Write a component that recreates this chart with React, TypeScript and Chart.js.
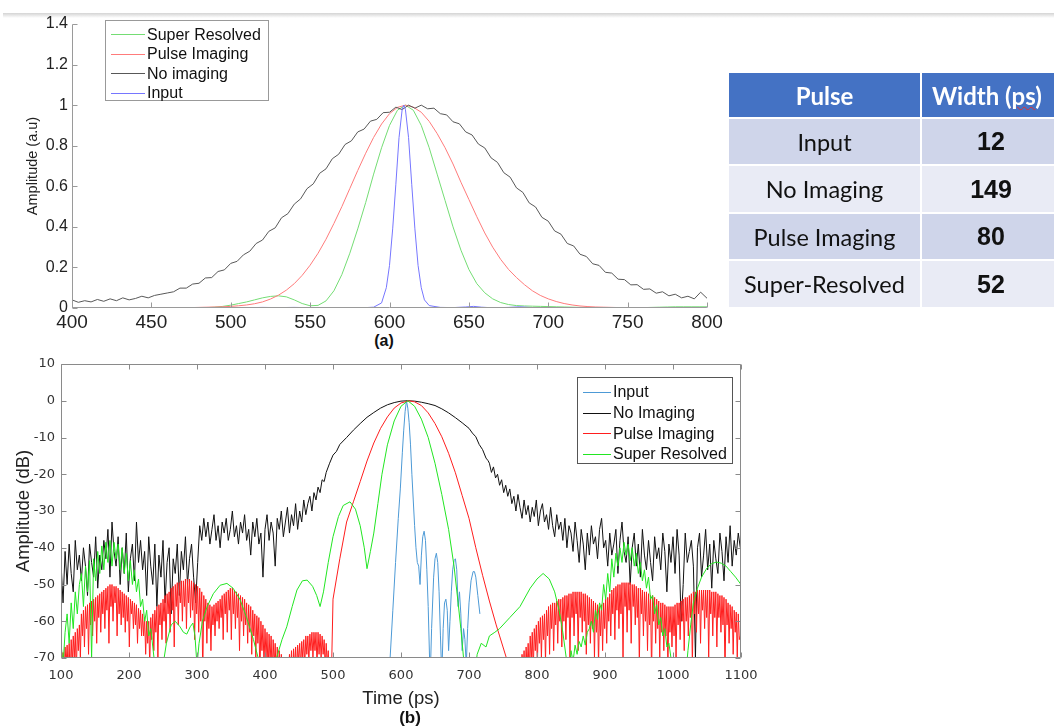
import { useEffect, useRef } from "react";
import { Chart, registerables } from "chart.js";
import type { ChartConfiguration } from "chart.js";

Chart.register(...registerables);

type Pt = { x: number; y: number };
const onGrid = (start: number, step: number, ys: number[]): Pt[] =>
  ys.map((y, i) => ({ x: start + i * step, y }));
const zipXY = (xs: number[], ys: number[]): Pt[] => xs.map((x, i) => ({ x, y: ys[i] }));

// ---------- (a) normalised amplitude ----------
const aTimeTicks = [400, 450, 500, 550, 600, 650, 700, 750, 800];
const aAmpTicks = [0, 0.2, 0.4, 0.6, 0.8, 1, 1.2, 1.4];
const aAmpTickLabels = ["0", "0.2", "0.4", "0.6", "0.8", "1", "1.2", "1.4"];

// sampled every 5 ps from 400 ps
const aSuperResolved = [
  0, 0, 0, 0, 0, 0, 0, 0, 0, 0,
  0, 0, 0, 0, 0, 0, 0, 0.002, 0.004, 0.008,
  0.014, 0.022, 0.03, 0.04, 0.05, 0.057, 0.06, 0.055, 0.04, 0.022,
  0.011, 0.013, 0.035, 0.085, 0.165, 0.27, 0.39, 0.52, 0.66, 0.79,
  0.9, 0.975, 1.0, 0.975, 0.9, 0.79, 0.66, 0.53, 0.4, 0.285,
  0.19, 0.12, 0.075, 0.045, 0.027, 0.017, 0.012, 0.01, 0.009, 0.008,
  0.007, 0.006, 0.005, 0.004, 0.003, 0.002, 0.002, 0.001, 0.001, 0.001,
  0.001, 0.001, 0.002, 0.003, 0.004, 0.005, 0.006, 0.006, 0.006, 0.006,
  0.006,
];
const aPulseImaging = [
  0, 0, 0, 0, 0, 0, 0, 0, 0, 0,
  0, 0.001, 0.001, 0.001, 0.002, 0.002, 0.003, 0.004, 0.005, 0.006,
  0.008, 0.011, 0.015, 0.021, 0.03, 0.044, 0.063, 0.088, 0.12, 0.161,
  0.211, 0.27, 0.339, 0.417, 0.5, 0.589, 0.678, 0.763, 0.841, 0.907,
  0.958, 0.989, 1.0, 0.99, 0.965, 0.92, 0.86, 0.79, 0.71, 0.62,
  0.535, 0.45, 0.37, 0.3, 0.24, 0.19, 0.15, 0.115, 0.085, 0.062,
  0.045, 0.032, 0.022, 0.015, 0.01, 0.007, 0.005, 0.004, 0.003, 0.002,
  0.002, 0.001, 0.001, 0.001, 0, 0, 0, 0, 0, 0,
  0,
];
// sampled every 4 ps from 400 ps
const aNoImaging = [
  0.040, 0.028, 0.036, 0.030, 0.042, 0.033, 0.045, 0.036, 0.050, 0.040,
  0.047, 0.058, 0.050, 0.062, 0.068, 0.074, 0.080, 0.098, 0.098, 0.118,
  0.122, 0.148, 0.150, 0.180, 0.188, 0.220, 0.230, 0.262, 0.280, 0.318,
  0.335, 0.378, 0.395, 0.445, 0.465, 0.512, 0.538, 0.588, 0.612, 0.664,
  0.686, 0.736, 0.758, 0.806, 0.824, 0.868, 0.882, 0.921, 0.930, 0.963,
  0.965, 0.990, 0.978, 1.000, 0.985, 1.000, 0.982, 0.985, 0.958, 0.952,
  0.918, 0.908, 0.868, 0.853, 0.808, 0.789, 0.740, 0.718, 0.667, 0.645,
  0.592, 0.570, 0.518, 0.498, 0.447, 0.428, 0.380, 0.364, 0.318, 0.306,
  0.265, 0.254, 0.218, 0.210, 0.176, 0.172, 0.142, 0.140, 0.114, 0.115,
  0.092, 0.094, 0.073, 0.080, 0.060, 0.068, 0.050, 0.058, 0.045, 0.078,
  0.048,
];
const aInputTime = [400, 500, 520, 530, 540, 560, 580, 590, 595, 598, 600, 602, 604, 606, 608, 609, 610, 612, 614, 616, 618, 620, 622, 625, 628, 632, 640, 648, 653, 658, 665, 675, 682, 690, 700, 800];
const aInputAmp = [0, 0, 0.003, 0.002, 0.003, 0, 0, 0.004, 0.025, 0.1, 0.21, 0.39, 0.61, 0.84, 0.98, 1.0, 0.98, 0.84, 0.61, 0.39, 0.21, 0.1, 0.04, 0.012, 0.008, 0.003, 0.002, 0.005, 0.008, 0.004, 0.001, 0.003, 0.006, 0.002, 0, 0];

// ---------- (b) amplitude in dB ----------
const bTimeTicks = [100, 200, 300, 400, 500, 600, 700, 800, 900, 1000, 1100];
const bDbTicks = [-70, -60, -50, -40, -30, -20, -10, 0, 10];

const bInputTime = [580, 584, 588, 592, 596, 599, 602, 604, 606, 608, 610, 612, 614, 616, 618, 620, 622, 624, 626, 628, 630, 632, 634, 636, 638, 640, 642, 643, 645, 648, 650, 652, 654, 656, 658, 660, 662, 664, 666, 668, 670, 672, 674, 676, 678, 680, 682, 684, 686, 688, 690, 692, 694, 696, 698, 700, 703, 706, 708, 710, 713, 716];
const bInputDb = [-80, -70, -57, -44, -32, -24, -14, -8, -3, 0, -2, -6, -12, -20, -27, -34, -40, -44, -45, -50, -42, -37, -35.5, -38, -46, -56, -70, -75, -62, -48, -43, -41.5, -44, -52, -64, -75, -62, -55, -54, -57, -68, -60, -52, -46, -43.5, -43, -46, -56, -52, -58, -68, -62, -65, -72, -62, -55, -49, -46.5, -46.5, -48, -53, -58];

// No imaging: noisy floor every 3 ps from 100 ps, smooth main lobe, noisy floor every 3 ps from 730 ps
const bNoImagingLeft = [
  -44, -55, -41, -50, -39, -47, -52, -38, -46, -42,
  -49, -40, -45, -53, -39, -44, -48, -37, -51, -42,
  -46, -38, -43, -35, -48, -33, -41, -45, -37, -50,
  -40, -47, -36, -52, -43, -39, -49, -33, -44, -38,
  -46, -41, -53, -37, -45, -50, -39, -56, -42, -48,
  -38, -55, -44, -40, -58, -43, -47, -39, -53, -41,
  -46, -37, -50, -43, -39, -48, -55, -44, -34, -38,
  -32, -37, -33, -39, -35, -31, -38, -34, -40, -33,
  -36, -32, -38, -35, -30, -37, -34, -39, -33, -36,
  -31, -38, -35, -42, -33, -37, -32, -39, -36, -48,
  -35, -31, -38, -33, -36, -45, -32, -35, -30, -37,
  -33, -29, -36, -31, -34, -28, -35, -30, -33, -27,
  -31, -28, -26, -30, -25, -27, -23.5, -25, -21.5, -22,
  -19.5,
];
const bNoImagingMainTime = [495, 500, 505, 510, 520, 530, 540, 550, 560, 570, 580, 590, 600, 610, 620, 630, 640, 650, 660, 670, 680, 690, 700, 705, 710, 715, 720, 725, 728];
const bNoImagingMainDb = [-17, -14.8, -13.8, -11.9, -10, -8, -6.2, -4.5, -3.2, -2, -1.1, -0.5, -0.1, 0, -0.1, -0.4, -0.8, -1.3, -2.2, -3.3, -4.6, -6, -7.5, -8.8, -9.8, -11.9, -13.3, -15.6, -16.3];
const bNoImagingRight = [
  -17, -19.5, -18, -21, -20, -23, -21.5, -25, -23, -26,
  -24, -28, -26, -30, -25.5, -29, -32, -27, -31, -28.5,
  -33, -29, -31.5, -27, -34, -30, -28, -33, -31, -35,
  -29, -34, -37, -31, -35, -33, -38, -32, -40, -34,
  -36, -41, -33, -38, -44, -35, -39, -46, -36, -42,
  -34, -39, -37, -43, -35, -32, -40, -38, -45, -36,
  -42, -39, -35, -47, -38, -33, -41, -44, -37, -50,
  -40, -36, -45, -39, -48, -35, -42, -46, -38, -44,
  -49, -37, -43, -40, -46, -36, -41, -52, -39, -44,
  -37, -47, -35, -42, -60, -50, -36, -44, -41, -38,
  -45, -70, -40, -36, -48, -42, -35, -46, -39, -51,
  -38, -43, -47, -36, -41, -49, -37, -44, -34, -45,
  -38, -42, -36, -40,
];

// Pulse imaging: sidelobe hatching every 1.5 ps from 100 ps, main lobe, hatching every 1.5 ps from 760 ps
const bPulseLeft = [
  -70, -78, -68.5, -75, -67, -72, -66.5, -74, -66, -76, -65, -72, -64, -70, -63, -75, -62, -68, -61, -70,
  -58, -64, -57, -67, -56, -62, -55.5, -69, -55, -61, -54.5, -64, -54, -60, -53.5, -66, -53, -59, -52.5, -63,
  -52, -58, -51.5, -62, -51, -57, -50.5, -66, -50, -56, -50, -60, -50.5, -55, -50.5, -64, -51, -58, -51.5, -61,
  -52, -59, -52.5, -63, -53, -60, -53.5, -67, -54, -58, -54.5, -62, -55, -61, -55.5, -66, -56.5, -62, -57, -64,
  -58, -64, -59, -69, -60, -66, -60, -72, -59, -65, -58, -68, -57, -63, -56, -70, -55.5, -61, -55, -65,
  -54, -60, -53, -66, -52.5, -58, -52, -63, -51, -57, -50.5, -67, -50, -56, -49.5, -61, -49.5, -55, -49, -60,
  -49, -56, -48.5, -62, -48.5, -55, -48.5, -59, -49, -57, -49.5, -65, -50, -58, -50.5, -63, -51, -60, -52, -75,
  -53, -60, -54, -66, -55, -62, -55.5, -68, -56, -61, -55.5, -64, -55, -60, -54.5, -62, -54, -59, -53, -65,
  -52.5, -58, -52, -63, -51.5, -57, -51, -65, -51, -58, -51.5, -62, -52, -59, -52.5, -68, -53, -60, -53.5, -64,
  -54, -61, -55, -66, -55.5, -63, -56, -69, -57, -64, -58, -70, -58.5, -66, -59, -75, -60, -68, -61, -72,
  -62, -70, -63, -74, -63.5, -71, -64, -75, -65, -72, -66, -76, -67, -74, -68, -78, -69, -76, -70, -80,
  -80, -76, -70, -75, -69, -74, -68, -78, -67.5, -73, -67, -74, -66.5, -71, -66, -73, -65.5, -70, -65, -72,
  -64, -69, -64, -71, -63.5, -68, -63, -70, -63, -68, -63, -72, -63, -69, -63.5, -70, -64, -69, -65, -73,
  -66, -72, -68, -75, -70,
];
const bPulseMainTime = [498, 500, 505, 510, 520, 530, 540, 550, 560, 570, 580, 590, 600, 612, 620, 630, 640, 650, 660, 670, 680, 690, 700, 710, 720, 730, 740, 745, 750, 755, 758];
const bPulseMainDb = [-72, -54, -48.5, -43, -33, -27.5, -22, -16.4, -11.5, -7.5, -4.4, -2, -0.6, 0, -0.3, -1.3, -3.3, -6.2, -9.8, -14.3, -19.6, -25.8, -32, -40, -47.5, -54.5, -61, -64, -67, -70, -78];
const bPulseRight = [
  -76, -82, -74, -80, -73, -78, -72, -79, -71, -76, -70, -77, -69, -74, -68, -76, -67, -73, -66, -75,
  -64, -71, -63, -74, -62, -68, -61, -72, -60, -66, -59, -70, -58.5, -65, -58, -71, -57, -64, -56, -69,
  -55.5, -62, -55, -68, -55, -61, -54.5, -66, -54, -60, -54, -67, -53.5, -60, -53, -65, -53, -59, -52.5, -70,
  -52.5, -59, -52, -64, -52, -58, -52, -68, -52, -59, -52, -63, -52.5, -60, -52.5, -69, -53, -61, -53.5, -66,
  -54, -62, -54.5, -70, -55, -63, -55.5, -72, -56, -64, -55.5, -68, -55, -62, -54, -66, -53.5, -60, -52.5, -64,
  -51.5, -58, -51, -65, -50.5, -57, -50, -62, -50, -58, -49.5, -70, -49.5, -56, -49.5, -63, -49.5, -57, -49.5, -66,
  -50, -56, -50, -61, -50.5, -59, -51, -72, -51, -58, -51.5, -64, -52, -60, -52, -68, -52.5, -61, -53, -75,
  -53, -60, -53.5, -66, -54, -62, -54.5, -70, -55, -63, -55, -68, -55.5, -64, -56, -73, -56, -63, -56, -67,
  -56, -64, -55.5, -70, -55, -61, -55, -65, -54.5, -60, -54, -68, -53.5, -60, -53.5, -64, -53, -59, -52.5, -72,
  -52, -58, -52, -63, -51.5, -58, -51.5, -66, -51.5, -57, -51.5, -62, -51.5, -59, -51.5, -70, -51.5, -58, -52, -64,
  -52, -59, -52, -67, -52.5, -59, -53, -63, -53, -61, -53.5, -75, -54, -61, -55, -66, -55.5, -62, -56, -69,
  -57, -63, -57.5, -70, -58, -65, -64,
];

// Super resolved: noisy lobe every 3 ps from 100 ps, smooth middle, noisy lobe every 3 ps from 850 ps, smooth tail
const bSuperLeft = [
  -66, -72, -63, -58, -66, -55, -62, -52, -58, -50,
  -47, -56, -45, -52, -43.5, -70, -43, -49, -41, -47,
  -39.5, -46, -38.5, -44, -38, -45, -38.5, -43, -39, -46,
  -40, -47, -41.5, -49, -43.5, -50, -46, -52, -48.5, -56,
  -54, -60, -57, -64, -62, -67, -72,
];
const bSuperMidTime = [245, 255, 262, 268, 275, 280, 285, 290, 294, 297, 300, 303, 308, 315, 324, 334, 344, 353, 363, 373, 383, 390, 395, 412, 417, 425, 432, 440, 447, 455, 462, 470, 476, 481, 486, 493, 500, 508, 515, 525, 533, 540, 546, 550, 555, 560, 566, 572, 580, 590, 600, 610, 620, 630, 640, 650, 660, 670, 678, 684, 688, 692, 696, 708, 712, 718, 725, 730, 738, 745, 760, 775, 790, 800, 809, 818, 826, 833, 838, 843, 847];
const bSuperMidDb = [-78, -66, -61, -60, -61.5, -63, -63.5, -61.5, -60.5, -64, -72, -66, -60, -56, -52.5, -50.2, -49.7, -51, -54, -59, -65, -70, -76, -76, -70, -65, -61.5, -56, -51.5, -49, -48.8, -50.5, -53, -56, -52, -44, -37, -31.5, -28.5, -27.5, -29.5, -34, -40, -45.7, -41, -36, -28, -20, -12, -5.5, -1.5, 0, -1.5, -5, -10, -17, -25.5, -35, -45, -55, -62, -70, -78, -75, -69, -66, -67, -64, -63, -62, -59, -56, -51, -48.5, -47, -48.5, -52, -57.5, -63, -70, -76];
const bSuperRight = [
  -68, -71, -66.5, -69, -65.5, -67, -64, -66.5, -63, -62,
  -60, -63, -57, -59.5, -55, -57, -50, -54, -47, -52,
  -43, -48, -41.5, -45, -40, -44, -38.5, -42, -39, -43.5,
  -40, -45, -41.5, -47, -44, -49, -46, -51, -48, -54,
  -53, -58, -55.5, -61, -59, -64, -62, -67, -66, -70,
  -72,
];
const bSuperTailTime = [1005, 1018, 1022, 1026, 1030, 1036, 1042, 1050, 1057, 1064, 1071, 1078, 1085, 1092, 1100];
const bSuperTailDb = [-76, -76, -68, -61, -55, -51, -48, -45.5, -44.3, -43.9, -44.2, -45, -46.5, -48, -50];

// ---------- table ----------
const pulseNames = ["Input", "No Imaging", "Pulse Imaging", "Super-Resolved"];
const pulseWidthsPs = [12, 149, 80, 52];

// ---------- series styling ----------
const aSeries = [
  { label: "Super Resolved", color: "#74dd74" },
  { label: "Pulse Imaging", color: "#ff7b7b" },
  { label: "No imaging", color: "#585858" },
  { label: "Input", color: "#7676ff" },
];
const bSeries = [
  { label: "Input", color: "#4d9ad6" },
  { label: "No Imaging", color: "#111111" },
  { label: "Pulse Imaging", color: "#ff1e1e" },
  { label: "Super Resolved", color: "#22e622" },
];

const lineSet = (data: Pt[], color: string) => ({
  data,
  showLine: true,
  borderColor: color,
  backgroundColor: color,
  borderWidth: 1,
  pointRadius: 0,
  tension: 0,
  fill: false,
});

function axisFrame(box: boolean, color: string, tick: number) {
  return {
    id: "axisFrame",
    afterDatasetsDraw(chart: any) {
      const { ctx, chartArea: a } = chart;
      const xs = chart.scales.x;
      const ys = chart.scales.y;
      const L = Math.round(a.left) + 0.5;
      const R = Math.round(a.right) - 0.5;
      const T = Math.round(a.top) + 0.5;
      const B = Math.round(a.bottom) - 0.5;
      ctx.save();
      ctx.strokeStyle = color;
      ctx.lineWidth = 1;
      ctx.beginPath();
      if (box) {
        ctx.rect(L, T, R - L, B - T);
      } else {
        ctx.moveTo(L, T);
        ctx.lineTo(L, B);
        ctx.lineTo(R, B);
      }
      for (const t of xs.ticks) {
        const px = Math.round(xs.getPixelForValue(t.value)) + 0.5;
        ctx.moveTo(px, B);
        ctx.lineTo(px, B - tick);
        if (box) {
          ctx.moveTo(px, T);
          ctx.lineTo(px, T + tick);
        }
      }
      for (const t of ys.ticks) {
        const py = Math.round(ys.getPixelForValue(t.value)) + 0.5;
        ctx.moveTo(L, py);
        ctx.lineTo(L + tick, py);
        if (box) {
          ctx.moveTo(R, py);
          ctx.lineTo(R - tick, py);
        }
      }
      ctx.stroke();
      ctx.restore();
    },
  };
}

const noPad = (s: any) => {
  s.paddingLeft = 0;
  s.paddingRight = 0;
  s.paddingTop = 0;
  s.paddingBottom = 0;
};

function configA(): ChartConfiguration {
  const datasets = [
    lineSet(zipXY(aInputTime, aInputAmp), aSeries[3].color),
    lineSet(onGrid(400, 4, aNoImaging), aSeries[2].color),
    lineSet(onGrid(400, 5, aPulseImaging), aSeries[1].color),
    lineSet(onGrid(400, 5, aSuperResolved), aSeries[0].color),
  ];
  return {
    type: "scatter",
    data: { datasets } as any,
    options: {
      responsive: false,
      animation: false,
      events: [],
      layout: { padding: { top: 24, right: 23, left: 0, bottom: 0 } },
      plugins: { legend: { display: false }, tooltip: { enabled: false } },
      scales: {
        x: {
          type: "linear",
          min: 400,
          max: 800,
          grid: { display: false, drawTicks: false },
          border: { display: false },
          afterBuildTicks: (s: any) => {
            s.ticks = aTimeTicks.map((v) => ({ value: v }));
          },
          afterFit: (s: any) => {
            s.height = 24;
            noPad(s);
          },
          ticks: {
            padding: 3,
            color: "#222",
            autoSkip: false,
            maxRotation: 0,
            font: { family: "Liberation Sans", size: 19 },
            callback: (v: any) => String(v),
          },
        },
        y: {
          type: "linear",
          min: 0,
          max: 1.4,
          grid: { display: false, drawTicks: false },
          border: { display: false },
          afterBuildTicks: (s: any) => {
            s.ticks = aAmpTicks.map((v) => ({ value: v }));
          },
          afterFit: (s: any) => {
            s.width = 72;
            noPad(s);
          },
          ticks: {
            padding: 4,
            color: "#222",
            autoSkip: false,
            font: { family: "Liberation Sans", size: 16 },
            callback: (_v: any, i: number) => aAmpTickLabels[i],
          },
          title: {
            display: true,
            text: "Amplitude (a.u)",
            color: "#222",
            font: { family: "Liberation Sans", size: 14.5 },
            padding: { top: 24, bottom: 0 },
          },
        },
      },
    },
    plugins: [axisFrame(false, "#9a9a9a", 5)],
  } as any;
}

function configB(): ChartConfiguration {
  const black = [
    ...onGrid(100, 3, bNoImagingLeft),
    ...zipXY(bNoImagingMainTime, bNoImagingMainDb),
    ...onGrid(730, 3, bNoImagingRight),
  ];
  const red = [
    ...onGrid(100, 1.5, bPulseLeft),
    ...zipXY(bPulseMainTime, bPulseMainDb),
    ...onGrid(760, 1.5, bPulseRight),
  ];
  const green = [
    ...onGrid(100, 3, bSuperLeft),
    ...zipXY(bSuperMidTime, bSuperMidDb),
    ...onGrid(850, 3, bSuperRight),
    ...zipXY(bSuperTailTime, bSuperTailDb),
  ];
  const datasets = [
    lineSet(green, bSeries[3].color),
    lineSet(red, bSeries[2].color),
    lineSet(black, bSeries[1].color),
    lineSet(zipXY(bInputTime, bInputDb), bSeries[0].color),
  ];
  return {
    type: "scatter",
    data: { datasets } as any,
    options: {
      responsive: false,
      animation: false,
      events: [],
      layout: { padding: { top: 14, right: 19, left: 0, bottom: 0 } },
      plugins: { legend: { display: false }, tooltip: { enabled: false } },
      scales: {
        x: {
          type: "linear",
          min: 100,
          max: 1100,
          grid: { display: false, drawTicks: false },
          border: { display: false },
          afterBuildTicks: (s: any) => {
            s.ticks = bTimeTicks.map((v) => ({ value: v }));
          },
          afterFit: (s: any) => {
            s.height = 69;
            noPad(s);
          },
          ticks: {
            padding: 10,
            color: "#333",
            autoSkip: false,
            maxRotation: 0,
            font: { family: "DejaVu Sans", size: 13 },
            callback: (v: any) => String(v),
          },
          title: {
            display: true,
            text: "Time (ps)",
            color: "#222",
            font: { family: "Liberation Sans", size: 18.5 },
            padding: { top: 0, bottom: 17 },
          },
        },
        y: {
          type: "linear",
          min: -70,
          max: 10,
          grid: { display: false, drawTicks: false },
          border: { display: false },
          afterBuildTicks: (s: any) => {
            s.ticks = bDbTicks.map((v) => ({ value: v }));
          },
          afterFit: (s: any) => {
            s.width = 61;
            noPad(s);
          },
          ticks: {
            padding: 6,
            color: "#333",
            autoSkip: false,
            font: { family: "DejaVu Sans", size: 13 },
            callback: (v: any) => String(v),
          },
          title: {
            display: true,
            text: "Amplitude (dB)",
            color: "#222",
            font: { family: "Liberation Sans", size: 18.5 },
            padding: { top: 13, bottom: 0 },
          },
        },
      },
    },
    plugins: [axisFrame(true, "#8a8a8a", 5)],
  } as any;
}

function PlotCanvas(props: { make: () => ChartConfiguration; left: number; top: number; width: number; height: number }) {
  const ref = useRef<HTMLCanvasElement>(null);
  useEffect(() => {
    const chart = new Chart(ref.current as HTMLCanvasElement, props.make());
    return () => chart.destroy();
  }, []);
  return (
    <canvas
      ref={ref}
      width={props.width}
      height={props.height}
      style={{ position: "absolute", left: props.left, top: props.top, width: props.width, height: props.height }}
    />
  );
}

function Legend(props: {
  items: { label: string; color: string }[];
  left: number;
  top: number;
  width: number;
  height: number;
  rowGap: number;
  border: string;
  sampleLeft: number;
  sampleWidth: number;
  fontSize: number;
}) {
  return (
    <div
      style={{
        position: "absolute",
        left: props.left,
        top: props.top,
        width: props.width,
        height: props.height,
        border: `1px solid ${props.border}`,
        background: "#fff",
        boxSizing: "border-box",
        fontFamily: "Liberation Sans",
        fontSize: props.fontSize,
        color: "#111",
      }}
    >
      {props.items.map((it, i) => (
        <div
          key={it.label}
          style={{
            position: "absolute",
            left: props.sampleLeft,
            top: 4 + i * props.rowGap,
            height: props.rowGap,
            display: "flex",
            alignItems: "center",
            whiteSpace: "nowrap",
          }}
        >
          <span style={{ display: "inline-block", width: props.sampleWidth, height: 1, background: it.color, marginRight: 2 }} />
          <span>{it.label}</span>
        </div>
      ))}
    </div>
  );
}

export default function App() {
  const cellBase: any = {
    padding: 0,
    textAlign: "center",
    verticalAlign: "middle",
    fontFamily: "Lato",
    fontSize: 23.5,
    color: "#111",
  };
  return (
    <div style={{ position: "absolute", left: 0, top: 0, width: 1054, height: 727, overflow: "hidden", background: "#fff" }}>
      <div style={{ position: "absolute", left: 3, right: 0, top: 13, height: 5, background: "linear-gradient(#d4d4d4, #ffffff)" }} />

      <PlotCanvas make={configA} left={0} top={0} width={730} height={332} />
      <Legend
        items={aSeries}
        left={105}
        top={20}
        width={164}
        height={81}
        rowGap={19.5}
        border="#999"
        sampleLeft={5}
        sampleWidth={34}
        fontSize={16}
      />
      <div style={{ position: "absolute", left: 366, top: 332, width: 36, textAlign: "center", fontFamily: "Liberation Sans", fontWeight: "bold", fontSize: 16, color: "#111" }}>
        (a)
      </div>

      <PlotCanvas make={configB} left={0} top={350} width={760} height={377} />
      <Legend
        items={bSeries}
        left={577}
        top={377}
        width={156}
        height={87}
        rowGap={20.7}
        border="#555"
        sampleLeft={5}
        sampleWidth={28}
        fontSize={16}
      />
      <div style={{ position: "absolute", left: 390, top: 708, width: 40, textAlign: "center", fontFamily: "Liberation Sans", fontWeight: "bold", fontSize: 17, color: "#111" }}>
        (b)
      </div>

      <table
        style={{
          position: "absolute",
          left: 727,
          top: 71,
          borderCollapse: "separate",
          borderSpacing: 2,
          tableLayout: "fixed",
          width: 340,
        }}
      >
        <colgroup>
          <col style={{ width: 191 }} />
          <col style={{ width: 145 }} />
        </colgroup>
        <thead>
          <tr style={{ height: 44 }}>
            <th style={{ ...cellBase, background: "#4472C4", color: "#fff", fontWeight: "bold", fontSize: 24 }}>Pulse</th>
            <th style={{ ...cellBase, background: "#4472C4", color: "#fff", fontWeight: "bold", fontSize: 24, textAlign: "left", paddingLeft: 10 }}>
              Width (
              <span style={{ textDecoration: "underline wavy #e03030", textDecorationThickness: 1 }}>ps</span>)
            </th>
          </tr>
        </thead>
        <tbody>
          {pulseNames.map((name, i) => (
            <tr key={name} style={{ height: i % 2 === 0 ? 45 : 46 }}>
              <td style={{ ...cellBase, background: i % 2 === 0 ? "#CFD5EA" : "#E9EBF5" }}>{name}</td>
              <td
                style={{
                  ...cellBase,
                  background: i % 2 === 0 ? "#CFD5EA" : "#E9EBF5",
                  fontFamily: "Liberation Sans",
                  fontWeight: "bold",
                  fontSize: 25,
                  textAlign: "left",
                  paddingLeft: 0,
                }}
              >
                <div style={{ width: 138, textAlign: "center" }}>{pulseWidthsPs[i]}</div>
              </td>
            </tr>
          ))}
        </tbody>
      </table>
    </div>
  );
}
